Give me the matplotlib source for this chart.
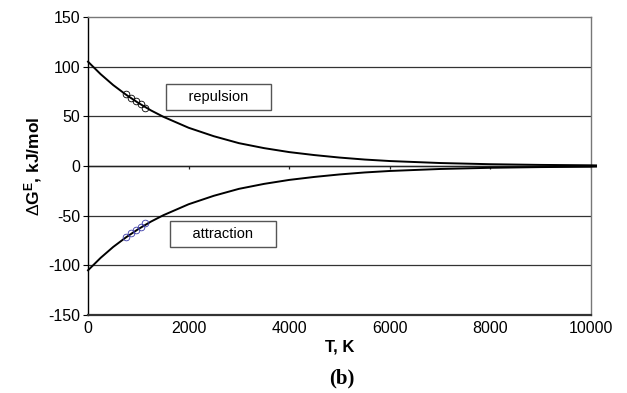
import matplotlib
matplotlib.use("Agg")
import matplotlib.pyplot as plt

plt.rcParams['font.family'] = ['Liberation Sans', 'DejaVu Sans']
plt.rcParams['mathtext.fontset'] = 'custom'
plt.rcParams['mathtext.rm'] = 'Liberation Sans'
plt.rcParams['mathtext.bf'] = 'Liberation Sans:bold'
plt.rcParams['axes.unicode_minus'] = False

# curve values (kJ/mol)
T = [0, 250, 500, 750, 1000, 1250, 1500, 2000, 2500, 3000, 3500, 4000,
     4500, 5000, 5500, 6000, 7000, 8000, 9000, 10000, 10100]
dG_rep = [105, 92.5, 81.5, 72, 63.5, 56, 49.5, 38.5, 30, 23, 18, 14,
          11, 8.5, 6.5, 5, 3, 1.8, 1.1, 0.7, 0.6]
dG_att = [-v for v in dG_rep]

# experimental points
T_pts = [760, 855, 950, 1045, 1135]
rep_pts = [72, 68, 65, 62.5, 58]
att_pts = [-71, -67.5, -64, -61, -57]

xticks = [0, 2000, 4000, 6000, 8000, 10000]
yticks = [-150, -100, -50, 0, 50, 100, 150]

fig = plt.figure(figsize=(6.27, 3.93), dpi=100)
ax = fig.add_axes([0.1404, 0.1985, 0.8022, 0.7582])

for y in yticks[1:-1]:
    ax.axhline(y, color='#333333', lw=0.9, zorder=1)
# axis through zero, with its small ticks
ax.axhline(0, color='#222222', lw=1.0, zorder=2)
ax.vlines(xticks[1:], -3.5, 0, color='#222222', lw=0.9, zorder=2)

ax.plot(T, dG_rep, color='black', lw=1.4, clip_on=False, zorder=3)
ax.plot(T, dG_att, color='black', lw=1.4, clip_on=False, zorder=3)
ax.plot(T_pts, rep_pts, 'o', mfc='none', mec='black', ms=4.8, mew=0.6, zorder=4)
ax.plot(T_pts, att_pts, 'o', mfc='none', mec='#3a3aa8', ms=4.8, mew=0.6, zorder=4)

ax.set_xlim(0, 10000)
ax.set_ylim(-150, 150)
ax.set_xticks(xticks)
ax.set_yticks(yticks)
ax.tick_params(axis='x', length=0, labelsize=11.5, pad=4)
ax.tick_params(axis='y', length=3.5, width=0.8, labelsize=11.5, pad=2)

ax.spines['left'].set_color('black')
ax.spines['left'].set_linewidth(1.0)
ax.spines['bottom'].set_color('#333333')
ax.spines['bottom'].set_linewidth(1.6)
for s in ['top', 'right']:
    ax.spines[s].set_color('#777777')
    ax.spines[s].set_linewidth(1.0)

box = dict(boxstyle='square,pad=0.42', fc='white', ec='#555555', lw=1.0)
ax.text(2590, 69.5, '    repulsion    ', ha='center', va='center', fontsize=10.5,
        bbox=box, zorder=5)
ax.text(2680, -68.5, '    attraction    ', ha='center', va='center', fontsize=10.5,
        bbox=box, zorder=5)

ax.set_xlabel('T, K', fontsize=12, fontweight='bold', labelpad=3)
ax.set_ylabel(r'$\Delta\mathbf{G^{E}}$, kJ/mol', fontsize=12.5, fontweight='bold', labelpad=3)

fig.text(0.545, 0.038, '(b)', ha='center', va='center', fontsize=15,
         fontweight='bold', family='Liberation Serif')

fig.savefig('out.png', dpi=100)
